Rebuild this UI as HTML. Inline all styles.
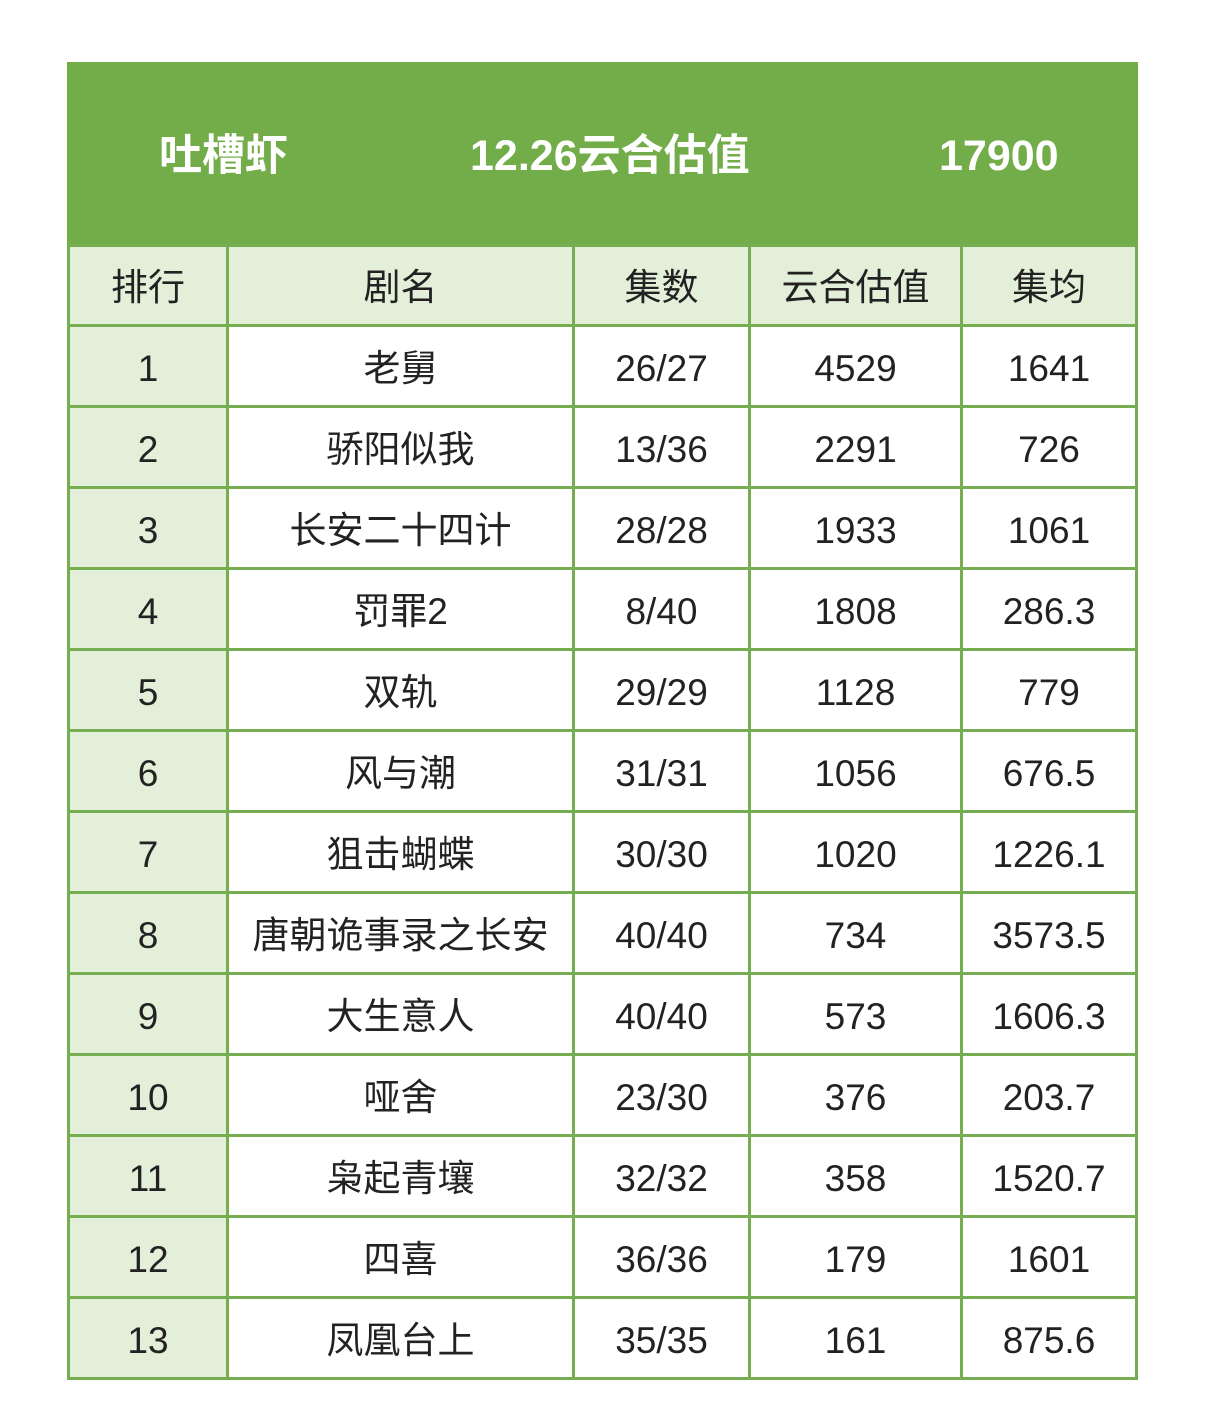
<!DOCTYPE html>
<html><head><meta charset="utf-8"><style>
body{margin:0;width:1206px;height:1425px;background:#fff;position:relative;font-family:"Liberation Sans","Noto Sans CJK SC",sans-serif;overflow:hidden}
.top{position:absolute;left:67px;top:62px;width:1071px;height:184px;background:#72ad4a}
.top div{position:absolute;top:64px;color:#fff;font-size:43px;font-weight:bold;line-height:60px}
table{position:absolute;left:67px;top:244px;border-collapse:collapse}
td{border:3px solid #76ad50;text-align:center;font-size:37px;color:#222;padding:6px 0 0 0;height:72px;line-height:72px}
tr.h td{background:#e3efd9;height:73px;line-height:73px;padding-top:4px}
td.c1{background:#e3efd9}
</style></head><body>
<div class="top"><div style="left:92px">吐槽虾</div><div style="left:403px">12.26云合估值</div><div style="left:872px">17900</div></div>
<table>
<tr class="h"><td style="width:156px">排行</td><td style="width:343px">剧名</td><td style="width:173px">集数</td><td style="width:209px">云合估值</td><td style="width:172px">集均</td></tr>
<tr><td class="c1">1</td><td>老舅</td><td>26/27</td><td>4529</td><td>1641</td></tr>
<tr><td class="c1">2</td><td>骄阳似我</td><td>13/36</td><td>2291</td><td>726</td></tr>
<tr><td class="c1">3</td><td>长安二十四计</td><td>28/28</td><td>1933</td><td>1061</td></tr>
<tr><td class="c1">4</td><td>罚罪2</td><td>8/40</td><td>1808</td><td>286.3</td></tr>
<tr><td class="c1">5</td><td>双轨</td><td>29/29</td><td>1128</td><td>779</td></tr>
<tr><td class="c1">6</td><td>风与潮</td><td>31/31</td><td>1056</td><td>676.5</td></tr>
<tr><td class="c1">7</td><td>狙击蝴蝶</td><td>30/30</td><td>1020</td><td>1226.1</td></tr>
<tr><td class="c1">8</td><td>唐朝诡事录之长安</td><td>40/40</td><td>734</td><td>3573.5</td></tr>
<tr><td class="c1">9</td><td>大生意人</td><td>40/40</td><td>573</td><td>1606.3</td></tr>
<tr><td class="c1">10</td><td>哑舍</td><td>23/30</td><td>376</td><td>203.7</td></tr>
<tr><td class="c1">11</td><td>枭起青壤</td><td>32/32</td><td>358</td><td>1520.7</td></tr>
<tr><td class="c1">12</td><td>四喜</td><td>36/36</td><td>179</td><td>1601</td></tr>
<tr><td class="c1">13</td><td>凤凰台上</td><td>35/35</td><td>161</td><td>875.6</td></tr>
</table>
</body></html>
